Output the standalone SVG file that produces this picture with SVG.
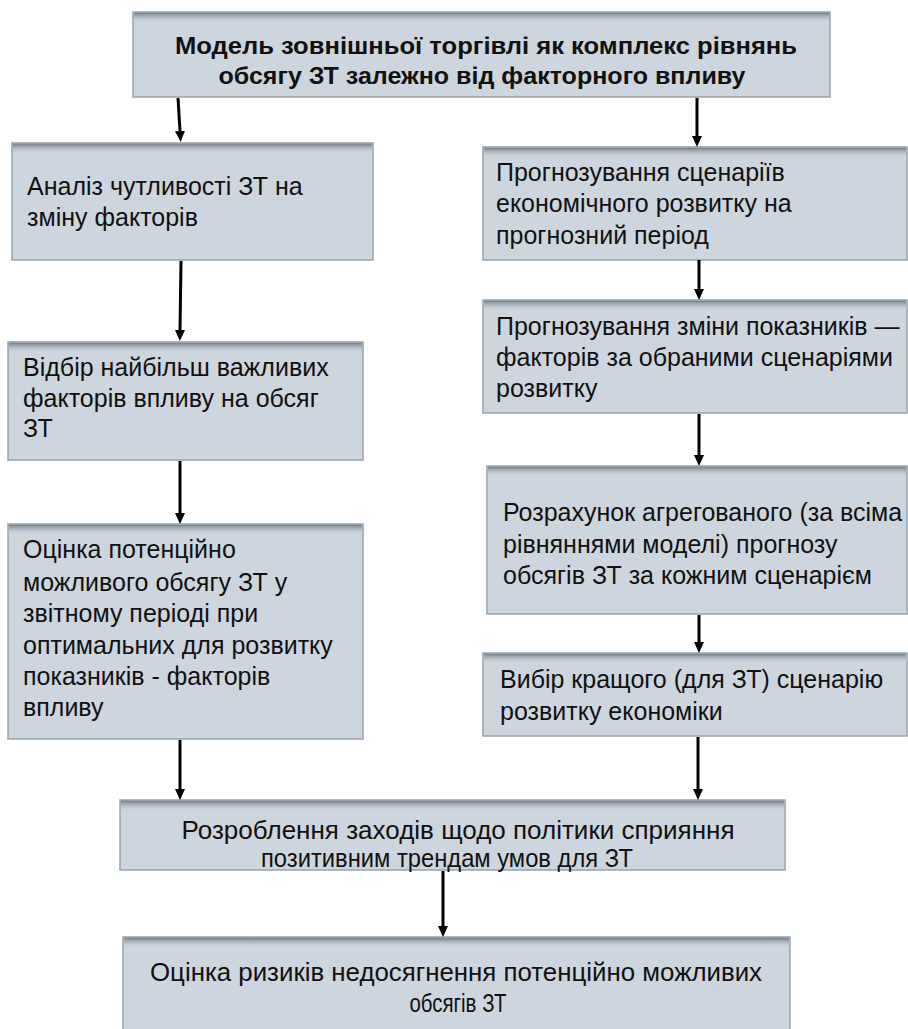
<svg xmlns="http://www.w3.org/2000/svg" width="908" height="1029" viewBox="0 0 908 1029">
<style>
.box{fill:#cdd5de;stroke:#98a2ad;stroke-width:1.5}
.shade{fill:url(#topShade)}
.t{font-family:"Liberation Sans",Arial,sans-serif;font-size:25px;fill:#111}
.tc{font-family:"Liberation Sans",Arial,sans-serif;font-size:26px;fill:#111;text-anchor:middle}
.tb{font-weight:bold;font-size:24px}
.conn{stroke:#000;stroke-width:3;fill:none;marker-end:url(#ah)}
</style>
<defs>
<linearGradient id="topShade" x1="0" y1="0" x2="0" y2="1">
<stop offset="0" stop-color="#6e7883" stop-opacity="0.95"/>
<stop offset="1" stop-color="#cdd5de" stop-opacity="0"/>
</linearGradient>
<marker id="ah" markerUnits="userSpaceOnUse" markerWidth="12" markerHeight="12" viewBox="0 0 12 12" refX="0" refY="6" orient="auto">
<path d="M0,1 L11,6 L0,11 Z" fill="#000"/>
</marker>
</defs>

<g id="n-top">
<rect class="box" x="133" y="12" width="697" height="85"/>
<rect class="shade" x="134" y="12.75" width="695" height="10"/>
<text class="tc tb" x="486" y="54" textLength="622" lengthAdjust="spacingAndGlyphs">Модель зовнішньої торгівлі як комплекс рівнянь</text>
<text class="tc tb" x="482" y="84" textLength="527" lengthAdjust="spacingAndGlyphs">обсягу ЗТ залежно від факторного впливу</text>
</g>

<g id="n-l1">
<rect class="box" x="12" y="143" width="361" height="117"/>
<rect class="shade" x="13" y="143.75" width="359" height="10"/>
<text class="t" x="27" y="195">Аналіз чутливості ЗТ на</text>
<text class="t" x="27" y="226">зміну факторів</text>
</g>

<g id="n-r1">
<rect class="box" x="483" y="147" width="424" height="113"/>
<rect class="shade" x="484" y="147.75" width="422" height="10"/>
<text class="t" x="496" y="181">Прогнозування сценаріїв</text>
<text class="t" x="496" y="212">економічного розвитку на</text>
<text class="t" x="496" y="244">прогнозний період</text>
</g>

<g id="n-l2">
<rect class="box" x="8" y="342" width="355" height="118"/>
<rect class="shade" x="9" y="342.75" width="353" height="10"/>
<text class="t" x="23" y="376">Відбір найбільш важливих</text>
<text class="t" x="23" y="407">факторів впливу на обсяг</text>
<text class="t" x="23" y="437">ЗТ</text>
</g>

<g id="n-r2">
<rect class="box" x="483" y="300" width="424" height="113"/>
<rect class="shade" x="484" y="300.75" width="422" height="10"/>
<text class="t" x="496" y="335">Прогнозування зміни показників —</text>
<text class="t" x="496" y="366">факторів за обраними сценаріями</text>
<text class="t" x="496" y="397">розвитку</text>
</g>

<g id="n-r3">
<rect class="box" x="487" y="466" width="420" height="148"/>
<rect class="shade" x="488" y="466.75" width="418" height="10"/>
<text class="t" x="503" y="521">Розрахунок агрегованого (за всіма</text>
<text class="t" x="503" y="553">рівняннями моделі) прогнозу</text>
<text class="t" x="503" y="584">обсягів ЗТ за кожним сценарієм</text>
</g>

<g id="n-l3">
<rect class="box" x="8" y="524" width="355" height="215"/>
<rect class="shade" x="9" y="524.75" width="353" height="10"/>
<text class="t" x="23" y="558">Оцінка потенційно</text>
<text class="t" x="23" y="591">можливого обсягу ЗТ у</text>
<text class="t" x="23" y="622">звітному періоді при</text>
<text class="t" x="23" y="654">оптимальних для розвитку</text>
<text class="t" x="23" y="685">показників - факторів</text>
<text class="t" x="23" y="716">впливу</text>
</g>

<g id="n-r4">
<rect class="box" x="483" y="653" width="424" height="83"/>
<rect class="shade" x="484" y="653.75" width="422" height="10"/>
<text class="t" x="500" y="688">Вибір кращого (для ЗТ) сценарію</text>
<text class="t" x="500" y="720">розвитку економіки</text>
</g>

<g id="n-b5">
<rect class="box" x="120" y="800" width="665" height="70"/>
<rect class="shade" x="121" y="800.75" width="663" height="10"/>
<text class="tc" x="458" y="839" textLength="553" lengthAdjust="spacingAndGlyphs">Розроблення заходів щодо політики сприяння</text>
<text class="tc" x="447" y="867" textLength="372" lengthAdjust="spacingAndGlyphs">позитивним трендам умов для ЗТ</text>
</g>

<g id="n-b6">
<rect class="box" x="123" y="937" width="667" height="100"/>
<rect class="shade" x="124" y="937.75" width="665" height="10"/>
<text class="tc" x="456" y="981" textLength="612" lengthAdjust="spacingAndGlyphs">Оцінка ризиків недосягнення потенційно можливих</text>
<text class="tc" x="458" y="1012" textLength="97" lengthAdjust="spacingAndGlyphs">обсягів ЗТ</text>
</g>

<g id="connectors">
<line class="conn" x1="178" y1="98" x2="180" y2="131"/>
<line class="conn" x1="697" y1="98" x2="697" y2="136"/>
<line class="conn" x1="181" y1="261" x2="180" y2="330"/>
<line class="conn" x1="699" y1="260" x2="699" y2="289"/>
<line class="conn" x1="180" y1="461" x2="180" y2="513"/>
<line class="conn" x1="699" y1="414" x2="699" y2="455"/>
<line class="conn" x1="699" y1="615" x2="699" y2="642"/>
<line class="conn" x1="180" y1="740" x2="180" y2="789"/>
<line class="conn" x1="698" y1="737" x2="698" y2="789"/>
<line class="conn" x1="443" y1="871" x2="443" y2="926"/>
</g>
</svg>
